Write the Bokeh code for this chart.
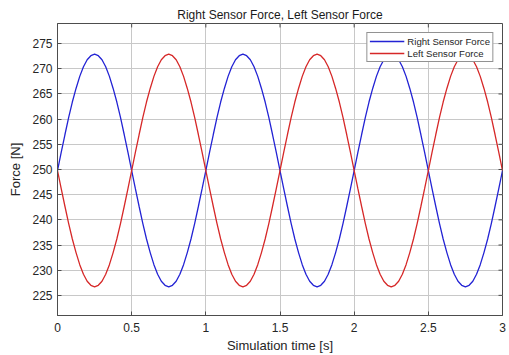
from bokeh.plotting import figure
from bokeh.models import Range1d, FixedTicker, Legend, LegendItem
from bokeh.embed import file_html
from bokeh.resources import INLINE

time_s = [0.0, 0.025, 0.05, 0.075, 0.1, 0.125, 0.15, 0.175, 0.2, 0.225,
          0.25, 0.275, 0.3, 0.325, 0.35, 0.375, 0.4, 0.425, 0.45, 0.475,
          0.5, 0.525, 0.55, 0.575, 0.6, 0.625, 0.65, 0.675, 0.7, 0.725,
          0.75, 0.775, 0.8, 0.825, 0.85, 0.875, 0.9, 0.925, 0.95, 0.975,
          1.0, 1.025, 1.05, 1.075, 1.1, 1.125, 1.15, 1.175, 1.2, 1.225,
          1.25, 1.275, 1.3, 1.325, 1.35, 1.375, 1.4, 1.425, 1.45, 1.475,
          1.5, 1.525, 1.55, 1.575, 1.6, 1.625, 1.65, 1.675, 1.7, 1.725,
          1.75, 1.775, 1.8, 1.825, 1.85, 1.875, 1.9, 1.925, 1.95, 1.975,
          2.0, 2.025, 2.05, 2.075, 2.1, 2.125, 2.15, 2.175, 2.2, 2.225,
          2.25, 2.275, 2.3, 2.325, 2.35, 2.375, 2.4, 2.425, 2.45, 2.475,
          2.5, 2.525, 2.55, 2.575, 2.6, 2.625, 2.65, 2.675, 2.7, 2.725,
          2.75, 2.775, 2.8, 2.825, 2.85, 2.875, 2.9, 2.925, 2.95, 2.975,
          3.0]

right_force = [249.8, 253.4, 256.9, 260.3, 263.4, 266.1, 268.5, 270.4, 271.8, 272.6,
               272.9, 272.6, 271.8, 270.4, 268.5, 266.1, 263.4, 260.3, 256.9, 253.4,
               249.8, 246.2, 242.7, 239.3, 236.2, 233.5, 231.1, 229.2, 227.8, 227.0,
               226.7, 227.0, 227.8, 229.2, 231.1, 233.5, 236.2, 239.3, 242.7, 246.2,
               249.8, 253.4, 256.9, 260.3, 263.4, 266.1, 268.5, 270.4, 271.8, 272.6,
               272.9, 272.6, 271.8, 270.4, 268.5, 266.1, 263.4, 260.3, 256.9, 253.4,
               249.8, 246.2, 242.7, 239.3, 236.2, 233.5, 231.1, 229.2, 227.8, 227.0,
               226.7, 227.0, 227.8, 229.2, 231.1, 233.5, 236.2, 239.3, 242.7, 246.2,
               249.8, 253.4, 256.9, 260.3, 263.4, 266.1, 268.5, 270.4, 271.8, 272.6,
               272.9, 272.6, 271.8, 270.4, 268.5, 266.1, 263.4, 260.3, 256.9, 253.4,
               249.8, 246.2, 242.7, 239.3, 236.2, 233.5, 231.1, 229.2, 227.8, 227.0,
               226.7, 227.0, 227.8, 229.2, 231.1, 233.5, 236.2, 239.3, 242.7, 246.2,
               249.8]

left_force = [249.8, 246.2, 242.7, 239.3, 236.2, 233.5, 231.1, 229.2, 227.8, 227.0,
              226.7, 227.0, 227.8, 229.2, 231.1, 233.5, 236.2, 239.3, 242.7, 246.2,
              249.8, 253.4, 256.9, 260.3, 263.4, 266.1, 268.5, 270.4, 271.8, 272.6,
              272.9, 272.6, 271.8, 270.4, 268.5, 266.1, 263.4, 260.3, 256.9, 253.4,
              249.8, 246.2, 242.7, 239.3, 236.2, 233.5, 231.1, 229.2, 227.8, 227.0,
              226.7, 227.0, 227.8, 229.2, 231.1, 233.5, 236.2, 239.3, 242.7, 246.2,
              249.8, 253.4, 256.9, 260.3, 263.4, 266.1, 268.5, 270.4, 271.8, 272.6,
              272.9, 272.6, 271.8, 270.4, 268.5, 266.1, 263.4, 260.3, 256.9, 253.4,
              249.8, 246.2, 242.7, 239.3, 236.2, 233.5, 231.1, 229.2, 227.8, 227.0,
              226.7, 227.0, 227.8, 229.2, 231.1, 233.5, 236.2, 239.3, 242.7, 246.2,
              249.8, 253.4, 256.9, 260.3, 263.4, 266.1, 268.5, 270.4, 271.8, 272.6,
              272.9, 272.6, 271.8, 270.4, 268.5, 266.1, 263.4, 260.3, 256.9, 253.4,
              249.8]

x_ticks = [0, 0.5, 1, 1.5, 2, 2.5, 3]
x_tick_labels = ["0", "0.5", "1", "1.5", "2", "2.5", "3"]
y_ticks = [225, 230, 235, 240, 245, 250, 255, 260, 265, 270, 275]

title_text = "Right Sensor Force, Left Sensor Force"
series_names = ["Right Sensor Force", "Left Sensor Force"]

FONT = "Liberation Sans"
TXT = "#262626"
AX = "#4d4d4d"

X0, X1 = 0, 3
Y0, Y1 = 221, 279
FRAME_W, FRAME_H = 445, 295

p = figure(width=509, height=355, output_backend="svg", toolbar_location=None,
           x_range=Range1d(X0, X1), y_range=Range1d(Y0, Y1),
           min_border_left=57, min_border_right=7, min_border_top=23, min_border_bottom=37,
           title=title_text)
p.title.align = "center"
p.title.text_font = FONT
p.title.text_font_size = "12px"
p.title.text_font_style = "normal"
p.title.text_color = "#1a1a1a"
p.title.standoff = 4
p.background_fill_color = "white"
p.border_fill_color = "white"
p.outline_line_color = AX
p.outline_line_width = 1

r1 = p.line(time_s, right_force, line_color="#2323d4", line_width=1.3)
r2 = p.line(time_s, left_force, line_color="#d62828", line_width=1.3)

for ax in (p.xaxis[0], p.yaxis[0]):
    ax.major_tick_in = 4
    ax.major_tick_out = 0
    ax.minor_tick_line_color = None
    ax.axis_line_color = AX
    ax.major_tick_line_color = AX
    ax.major_label_text_font = FONT
    ax.major_label_text_font_size = "12px"
    ax.major_label_text_color = TXT
    ax.axis_label_text_font = FONT
    ax.axis_label_text_font_size = "13px"
    ax.axis_label_text_font_style = "normal"
    ax.axis_label_text_color = TXT

p.xaxis[0].ticker = FixedTicker(ticks=x_ticks)
p.xaxis[0].major_label_overrides = {t: l for t, l in zip(x_ticks, x_tick_labels)}
p.xaxis[0].major_label_standoff = 7
p.xaxis[0].axis_label = "Simulation time [s]"
p.xaxis[0].axis_label_standoff = 3
p.yaxis[0].ticker = FixedTicker(ticks=y_ticks)
p.yaxis[0].major_label_standoff = 5
p.yaxis[0].axis_label = "Force [N]"
p.yaxis[0].axis_label_standoff = 6

p.xgrid[0].ticker = FixedTicker(ticks=x_ticks)
p.ygrid[0].ticker = FixedTicker(ticks=y_ticks)
for g in (p.xgrid[0], p.ygrid[0]):
    g.grid_line_color = "#c8c8c8"
    g.grid_line_width = 1

# inward tick marks on the top and right edges of the box (MATLAB "box on")
dx = 4 * (X1 - X0) / FRAME_W
dy = 4 * (Y1 - Y0) / FRAME_H
p.segment(x0=x_ticks, x1=x_ticks, y0=[Y1] * len(x_ticks), y1=[Y1 - dy] * len(x_ticks),
          line_color=AX, line_width=1)
p.segment(x0=[X1] * len(y_ticks), x1=[X1 - dx] * len(y_ticks), y0=y_ticks, y1=y_ticks,
          line_color=AX, line_width=1)

legend = Legend(items=[LegendItem(label=series_names[0], renderers=[r1]),
                       LegendItem(label=series_names[1], renderers=[r2])],
                location="top_right", margin=9, padding=2, spacing=0,
                glyph_width=35, glyph_height=12, label_height=12, label_standoff=3,
                label_text_font=FONT, label_text_font_size="9.6px", label_text_color=TXT,
                border_line_color=TXT, border_line_width=1, background_fill_alpha=1)
p.add_layout(legend, "center")

open("out.html", "w").write(file_html(p, INLINE))
